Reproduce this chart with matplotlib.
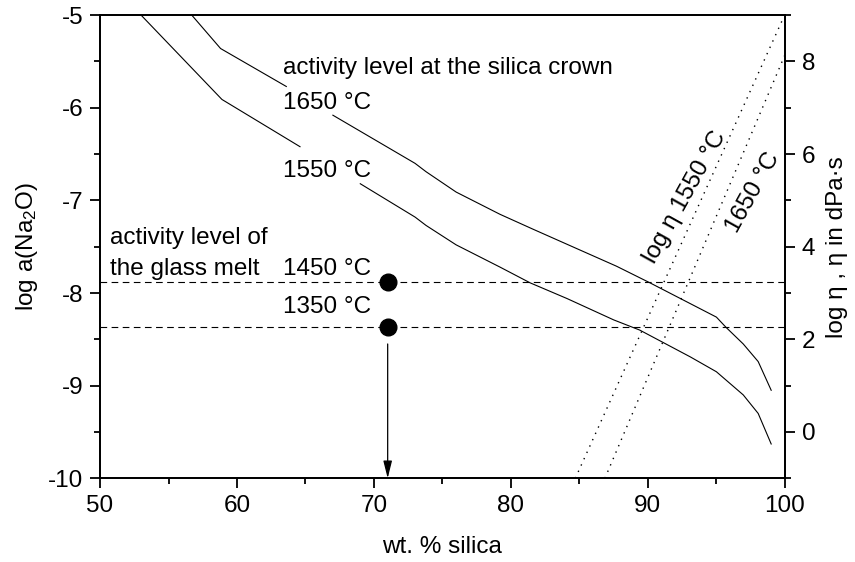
import numpy as np
import matplotlib
matplotlib.use('Agg')
import matplotlib.pyplot as plt
from matplotlib.ticker import MultipleLocator

plt.rcParams['font.family'] = ['Liberation Sans', 'DejaVu Sans']
plt.rcParams['mathtext.default'] = 'regular'
plt.rcParams['axes.unicode_minus'] = False
plt.rcParams['font.size'] = 17.5

# activity curves log a(Na2O) vs wt.% silica (nan = gap behind label)
x_1650 = [56.7, 58.8, 63.6, np.nan, 67.0, 73.0, 73.8, 76.0, 79.2, 81.6, 84.8,
          87.7, 90.15, 95.0, 95.7, 96.96, 98.05, 99.0]
y_1650 = [-5.0, -5.36, -5.77, np.nan, -6.08, -6.60, -6.69, -6.91, -7.15, -7.31, -7.52,
          -7.71, -7.89, -8.26, -8.37, -8.55, -8.74, -9.05]
x_1550 = [53.0, 58.9, 64.6, np.nan, 69.0, 73.0, 73.8, 76.0, 79.2, 81.4, 84.1,
          87.5, 89.4, 93.1, 95.0, 96.96, 98.05, 99.0]
y_1550 = [-5.0, -5.91, -6.42, np.nan, -6.82, -7.18, -7.27, -7.48, -7.72, -7.89, -8.06,
          -8.29, -8.40, -8.69, -8.85, -9.10, -9.30, -9.63]

# glass melt activity levels
melt_temps = ['1450 °C', '1350 °C']
melt_levels = [-7.88, -8.37]
melt_silica = 71

# viscosity lines (right axis), log eta in dPa s
eta_x_1550 = [84.7, 99.9]
eta_y_1550 = [-1.0, 8.95]
eta_x_1650 = [86.86, 100.0]
eta_y_1650 = [-1.0, 8.14]

fig = plt.figure(figsize=(8.55, 5.62), dpi=100)
ax = fig.add_axes([0.117, 0.149, 0.801, 0.824])
ax2 = ax.twinx()

ax.plot(x_1650, y_1650, color='black', lw=0.8)
ax.plot(x_1550, y_1550, color='black', lw=0.8)

for lvl in melt_levels:
    ax.axhline(lvl, color='black', lw=0.8, ls=(0, (6, 4)))
ax.plot([melt_silica] * 2, melt_levels, 'o', color='black', ms=12, zorder=5)
ax.annotate('', xy=(melt_silica, -10), xytext=(melt_silica, melt_levels[1] - 0.18),
            arrowprops=dict(arrowstyle='-|>,head_length=0.6,head_width=0.15',
                            color='black', lw=0.9, shrinkA=0, shrinkB=0))

# labels
ax.text(63.33, -5.64, 'activity level at the silica crown')
ax.text(63.33, -6.015, '1650 °C')
ax.text(63.33, -6.746, '1550 °C')
ax.text(50.73, -7.466, 'activity level of')
ax.text(50.73, -7.81, 'the glass melt')
ax.text(63.33, -7.81, melt_temps[0])
ax.text(63.33, -8.22, melt_temps[1])
ax.text(92.7, -6.96, 'log η 1550 °C', rotation=61, ha='center', va='center',
        rotation_mode='anchor')
ax.text(97.7, -6.91, '1650 °C', rotation=61, ha='center', va='center',
        rotation_mode='anchor')

ax.set_xlim(50, 100)
ax.set_ylim(-10, -5)
ax.xaxis.set_major_locator(MultipleLocator(10))
ax.xaxis.set_minor_locator(MultipleLocator(5))
ax.yaxis.set_major_locator(MultipleLocator(1))
ax.yaxis.set_minor_locator(MultipleLocator(0.5))
ax.set_xlabel('wt. % silica', labelpad=14)
ax.set_ylabel('log a(Na$_2$O)', labelpad=6)

ax2.plot(eta_x_1550, eta_y_1550, color='black', lw=1.0, ls=(0, (1, 4)))
ax2.plot(eta_x_1650, eta_y_1650, color='black', lw=1.0, ls=(0, (1, 4)))
ax2.set_ylim(-1, 9)
ax2.yaxis.set_major_locator(MultipleLocator(2))
ax2.yaxis.set_minor_locator(MultipleLocator(1))
ax2.set_ylabel('log η , η in dPa·s', labelpad=8)

for a in (ax, ax2):
    a.tick_params(which='major', direction='out', length=7, width=1.3, pad=5)
    a.tick_params(which='minor', direction='out', length=4, width=1.3)
    for s in a.spines.values():
        s.set_linewidth(1.3)
ax.tick_params(top=False, right=False, which='both')

fig.savefig('out.png', dpi=100)
